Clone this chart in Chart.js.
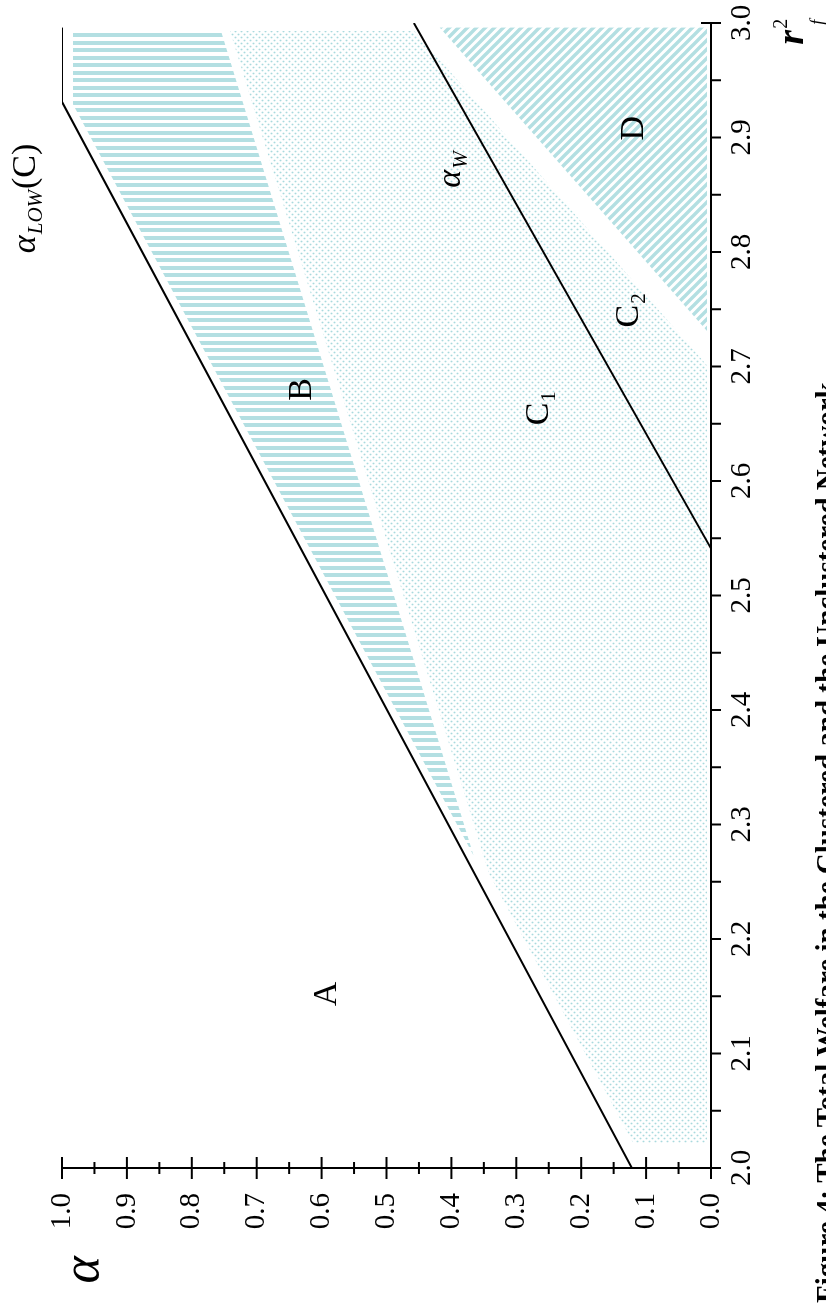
<!DOCTYPE html>
<html>
<head>
<meta charset="utf-8">
<script src="https://cdn.jsdelivr.net/npm/chart.js@4.4.1/dist/chart.umd.min.js"></script>
<style>
  html, body { margin: 0; padding: 0; background: #fff; overflow: hidden; }
  #page { width: 826px; height: 1305px; position: relative; overflow: hidden; }
  /* the figure is laid out in landscape and turned a quarter to the left */
  #wrap { position: absolute; left: 0; top: 0; width: 1305px; height: 826px;
          transform-origin: 0 0; transform: translateY(1305px) rotate(-90deg); }
</style>
</head>
<body>
<div id="page"><div id="wrap"><canvas id="chart" width="1305" height="826"></canvas></div></div>
<script>
// x = r_f^2, y = alpha

// shaded regions (outline points, r and alpha)
const regionC_r = [2.993, 2.993, 2.701, 2.022, 2.022, 2.257, 2.993];
const regionC_a = [0.741, 0.457, 0.006, 0.006, 0.120, 0.342, 0.741];
const regionB_r = [2.993, 2.929, 2.273, 2.993, 2.993];
const regionB_a = [0.983, 0.983, 0.366, 0.755, 0.983];
const regionD_r = [2.996, 2.996, 2.731, 2.996];
const regionD_a = [0.418, 0.006, 0.006, 0.418];

// boundary lines
const alphaLow_r = [2.0, 2.931, 2.996];
const alphaLow_a = [0.122, 1.0, 1.0];
const alphaW_r = [2.541, 3.0];
const alphaW_a = [0.0, 0.458];

// region names
const labelText = ['A', 'B', 'C', 'C', 'D'];
const labelSub = ['', '', '1', '2', ''];
const label_r = [2.152, 2.68, 2.6585, 2.744, 2.908];
const label_a = [0.595, 0.633, 0.268, 0.129, 0.122];

const SERIF = '"Liberation Serif", "Times New Roman", serif';
const TEAL = '#b3dfe2';

function makePattern(w, h, draw) {
    const c = document.createElement('canvas');
    c.width = w;
    c.height = h;
    const g = c.getContext('2d');
    draw(g);
    return g.createPattern(c, 'repeat');
}

// B: plain stripes
const barFill = makePattern(15, 4, g => {
    g.fillStyle = TEAL;
    g.fillRect(0, 0, 4, 4);
    g.fillRect(8, 0, 4, 4);
});
// D: slanted stripes
const slashFill = makePattern(9, 9, g => {
    g.strokeStyle = TEAL;
    g.lineWidth = 3.4;
    g.beginPath();
    g.moveTo(-2, -2); g.lineTo(11, 11);
    g.moveTo(-2, 7); g.lineTo(2, 11);
    g.moveTo(7, -2); g.lineTo(11, 2);
    g.stroke();
});
// C: fine dots
const dotFill = makePattern(6, 6, g => {
    g.fillStyle = '#a9d9dd';
    g.beginPath();
    g.arc(1.5, 1.5, 0.9, 0, Math.PI * 2);
    g.arc(4.5, 4.5, 0.9, 0, Math.PI * 2);
    g.fill();
});

const toPts = (rs, as) => rs.map((r, i) => ({ x: r, y: as[i] }));

function area(rs, as, fill) {
    return {
        data: toPts(rs, as),
        showLine: true,
        fill: 'shape',
        backgroundColor: fill,
        borderColor: 'rgba(0,0,0,0)',
        borderWidth: 0,
        pointRadius: 0,
        tension: 0
    };
}

function curve(rs, as) {
    return {
        data: toPts(rs, as),
        showLine: true,
        fill: false,
        borderColor: '#000',
        borderWidth: 2,
        pointRadius: 0,
        tension: 0
    };
}

// text made of runs: [{t, font, dx, dy}]
function drawRuns(ctx, runs, x, y) {
    let cx = x;
    runs.forEach(run => {
        ctx.font = run.font;
        cx += run.dx || 0;
        ctx.fillText(run.t, cx, y + (run.dy || 0));
        cx += ctx.measureText(run.t).width;
    });
}

// tick marks: alpha ticks cross the axis, r ticks stick out below
const tickMarks = {
    id: 'tickMarks',
    afterDraw(chart) {
        const { ctx, scales: { x, y } } = chart;
        ctx.save();
        ctx.strokeStyle = '#000';
        ctx.lineWidth = 2;
        const yt = y.ticks.map(t => t.value);
        yt.forEach((v, i) => {
            const p = y.getPixelForValue(v);
            ctx.beginPath(); ctx.moveTo(x.left - 11, p); ctx.lineTo(x.left + 11, p); ctx.stroke();
            if (i < yt.length - 1) {
                const m = y.getPixelForValue((v + yt[i + 1]) / 2);
                ctx.beginPath(); ctx.moveTo(x.left - 6, m); ctx.lineTo(x.left + 6, m); ctx.stroke();
            }
        });
        const xt = x.ticks.map(t => t.value);
        xt.forEach((v, i) => {
            const p = x.getPixelForValue(v);
            const inner = (i === 0 || i === xt.length - 1) ? 10 : 0;
            ctx.beginPath(); ctx.moveTo(p, y.bottom - inner); ctx.lineTo(p, y.bottom + 10); ctx.stroke();
            if (i < xt.length - 1) {
                const m = x.getPixelForValue((v + xt[i + 1]) / 2);
                ctx.beginPath(); ctx.moveTo(m, y.bottom); ctx.lineTo(m, y.bottom + 10); ctx.stroke();
            }
        });
        ctx.restore();
    }
};

// region names, line names, axis names and caption
const annotations = {
    id: 'annotations',
    afterDraw(chart) {
        const { ctx, scales: { x, y } } = chart;
        ctx.save();
        ctx.fillStyle = '#000';
        ctx.textBaseline = 'alphabetic';

        labelText.forEach((t, i) => {
            ctx.font = '34px ' + SERIF;
            const w = ctx.measureText(t).width;
            const px = x.getPixelForValue(label_r[i]) - w / 2;
            const py = y.getPixelForValue(label_a[i]) + 11;
            const runs = [{ t: t, font: '34px ' + SERIF }];
            if (labelSub[i]) runs.push({ t: labelSub[i], font: '21px ' + SERIF, dx: 1, dy: 7 });
            drawRuns(ctx, runs, px, py);
        });

        // alpha_W
        drawRuns(ctx, [
            { t: 'α', font: 'italic 34px ' + SERIF },
            { t: 'W', font: 'italic 21px ' + SERIF, dx: 1, dy: 7 }
        ], x.getPixelForValue(2.864) - 9, y.getPixelForValue(0.399) + 8);

        // alpha_LOW(C)
        drawRuns(ctx, [
            { t: 'α', font: 'italic 34px ' + SERIF },
            { t: 'LOW', font: 'italic 21px ' + SERIF, dx: 1, dy: 7 },
            { t: '(C)', font: '34px ' + SERIF, dx: 1 }
        ], x.getPixelForValue(2.799), y.getPixelForValue(1.041));

        // axis names
        ctx.font = 'italic 52px ' + SERIF;
        ctx.textAlign = 'center';
        ctx.fillText('α', x.getPixelForValue(1.911), y.getPixelForValue(0.963) + 12);
        ctx.textAlign = 'left';
        const rx = x.getPixelForValue(2.988) - 8;
        const ry = y.getPixelForValue(-0.129) + 8;
        drawRuns(ctx, [{ t: 'r', font: 'italic bold 38px ' + SERIF }], rx, ry);
        ctx.font = '20px ' + SERIF;
        ctx.fillText('2', rx + 16, ry - 16);
        ctx.font = 'italic 18px ' + SERIF;
        ctx.fillText('f', rx + 20, ry + 20);

        // caption, cut by the page edge
        ctx.font = 'bold 29px ' + SERIF;
        ctx.fillText('Figure 4: The Total Welfare in the Clustered and the Unclustered Network', 2, 836);
        ctx.restore();
    }
};

const ctx = document.getElementById('chart').getContext('2d');
new Chart(ctx, {
    type: 'scatter',
    data: {
        // chart.js paints the first dataset last, so the lines go first
        datasets: [
            curve(alphaLow_r, alphaLow_a),
            curve(alphaW_r, alphaW_a),
            area(regionD_r, regionD_a, slashFill),
            area(regionB_r, regionB_a, barFill),
            area(regionC_r, regionC_a, dotFill)
        ]
    },
    options: {
        responsive: false,
        animation: false,
        events: [],
        layout: { padding: { top: 62, right: 23, left: 0, bottom: 0 } },
        plugins: { legend: { display: false }, tooltip: { enabled: false } },
        scales: {
            x: {
                type: 'linear',
                position: 'bottom',
                min: 2,
                max: 3,
                ticks: {
                    stepSize: 0.1,
                    autoSkip: false,
                    maxRotation: 0,
                    padding: 4,
                    color: '#000',
                    font: { family: SERIF, size: 29 },
                    callback: v => v.toFixed(1)
                },
                grid: { display: false, drawTicks: true, tickLength: 10 },
                border: { display: true, color: '#000', width: 2 },
                afterFit: s => { s.height = 115; }
            },
            y: {
                type: 'linear',
                min: 0,
                max: 1,
                ticks: {
                    stepSize: 0.1,
                    padding: 14,
                    color: '#000',
                    font: { family: SERIF, size: 29 },
                    callback: v => v.toFixed(1)
                },
                grid: { display: false, drawTicks: true, tickLength: 11 },
                border: { display: true, color: '#000', width: 2 },
                afterFit: s => { s.width = 137; }
            }
        }
    },
    plugins: [tickMarks, annotations]
});
</script>
</body>
</html>
